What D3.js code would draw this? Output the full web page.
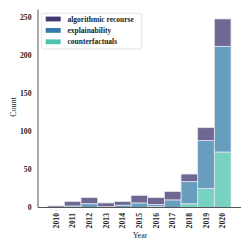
<!DOCTYPE html>
<html><head><meta charset="utf-8">
<script src="https://cdn.jsdelivr.net/npm/d3@7"></script>
<style>body{margin:0;background:#fff}svg{display:block}text{font-family:"Liberation Serif","Times New Roman",serif}</style>
</head><body><svg id="c" width="250" height="250"></svg>
<script>
const years = ["2010","2011","2012","2013","2014","2015","2016","2017","2018","2019","2020"];
const algorithmicRecourse = [2, 6, 8, 5, 5, 10, 9, 11, 10, 17, 36];
const explainability =      [0, 2, 5, 1, 3, 6, 3, 10, 29, 63, 139];
const counterfactuals =     [0, 0, 0, 0, 0, 0, 1, 0, 5, 25, 73];
const yTicks = [0, 50, 100, 150, 200, 250];
const seriesNames = ["algorithmic recourse", "explainability", "counterfactuals"];
const legendColors = ["#3f3a70", "#357ba9", "#4cc2af"];
const barColors = ["#6e6892", "#679dbe", "#78d2c2"];

const svg = d3.select("#c");
const m = {l: 38, r: 9, t: 9.5, b: 42.5};
const W = 250, H = 250;
const rows = years.map((y, i) => ({year: y, cf: counterfactuals[i], ex: explainability[i], ar: algorithmicRecourse[i]}));
const stack = d3.stack().keys(["cf", "ex", "ar"])(rows);
const maxT = d3.max(rows, d => d.cf + d.ex + d.ar);

const x = d3.scaleBand().domain(years).range([47.7, 231]).padding(0);
const y = d3.scaleLinear().domain([0, maxT * 1.05]).range([H - m.b, m.t]);

const colorOf = {cf: barColors[2], ex: barColors[1], ar: barColors[0]};
stack.forEach(s => {
  svg.append("g").selectAll("rect").data(s).join("rect")
    .attr("x", d => x(d.data.year))
    .attr("width", x.bandwidth())
    .attr("y", d => y(d[1]))
    .attr("height", d => Math.max(0, y(d[0]) - y(d[1])))
    .attr("fill", colorOf[s.key])
    .attr("stroke", "#e4e4ee").attr("stroke-width", 0.8);
});

// axes
const xa = svg.append("g").attr("transform", `translate(0,${H - m.b})`)
  .call(d3.axisBottom(x).tickSize(0).tickPadding(0));
xa.select(".domain").remove();
xa.append("line").attr("x1", m.l).attr("x2", 241).attr("y1", 0).attr("y2", 0).attr("stroke", "#555").attr("stroke-width", 1);
xa.selectAll(".tick text")
  .attr("transform", "rotate(-90)").attr("text-anchor", "end")
  .attr("x", -5.5).attr("y", 0).attr("dy", "0.35em")
  .style("font-family", "Liberation Serif").style("font-weight", "bold").style("font-size", "7.7px").attr("fill", "#222");

const ya = svg.append("g").attr("transform", `translate(${m.l},0)`)
  .call(d3.axisLeft(y).tickValues(yTicks).tickSize(0).tickPadding(6.5));
ya.select(".domain").remove();
ya.append("line").attr("x1", 0).attr("x2", 0).attr("y1", m.t).attr("y2", H - m.b).attr("stroke", "#555").attr("stroke-width", 1);
ya.selectAll(".tick text").style("font-family", "Liberation Serif").style("font-weight", "bold").style("font-size", "7.7px").attr("fill", "#222");

svg.append("text").attr("x", 140).attr("y", 238).attr("text-anchor", "middle")
  .style("font-size", "8px").attr("fill", "#222").text("Year");
svg.append("text").attr("transform", "translate(15.5,107) rotate(-90)").attr("text-anchor", "middle")
  .style("font-size", "8px").attr("fill", "#222").text("Count");

// legend
const lg = svg.append("g");
lg.append("rect").attr("x", 41.7).attr("y", 13.3).attr("width", 100).attr("height", 35.7)
  .attr("rx", 1.5).attr("fill", "#fff").attr("stroke", "#ddd").attr("stroke-width", 0.8);
seriesNames.forEach((n, i) => {
  const cy = 19 + i * 11.4;
  lg.append("rect").attr("x", 45.7).attr("y", cy - 2.4).attr("width", 15).attr("height", 4.8).attr("fill", legendColors[i]);
  lg.append("text").attr("x", 67.5).attr("y", cy).attr("dy", "0.35em")
    .style("font-weight", "bold").style("font-size", "7.5px").attr("fill", "#222").text(n);
});
</script></body></html>
